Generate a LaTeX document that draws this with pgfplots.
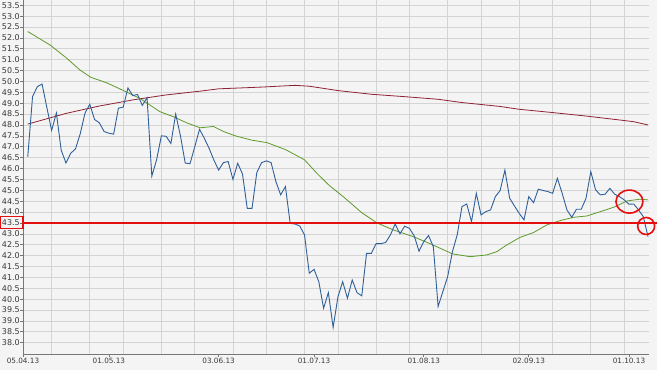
\documentclass[border=0pt]{standalone}
\usepackage{pgfplots}
\pgfplotsset{compat=1.18}
\usepackage{fontspec}
\setmainfont{DejaVu Sans}
\definecolor{bgc}{HTML}{F4F4F4}
\definecolor{gridc}{HTML}{D4D4D4}
\definecolor{axc}{HTML}{777777}
\definecolor{txtc}{HTML}{3A3A3A}
\definecolor{pricec}{HTML}{30609A}
\definecolor{mafast}{HTML}{5E9A2A}
\definecolor{maslow}{HTML}{8E2232}
\definecolor{annot}{HTML}{E41010}
\begin{document}
\begin{tikzpicture}
\fill[bgc] (-23bp,-16bp) rectangle (634bp,354bp);
\begin{axis}[
  scale only axis,
  width=626bp, height=354bp,
  xmin=0, xmax=131.2,
  ymin=37.48, ymax=53.74,
  clip=false,
  axis background/.style={fill=bgc},
  axis x line*=bottom, axis y line*=left,
  axis line style={axc, line width=0.8pt, -},
  xtick={0,18,41,61,84,106,127},
  xticklabels={05.04.13,01.05.13,03.06.13,01.07.13,01.08.13,02.09.13,01.10.13},
  minor xtick={6,14,21,29,36,44,51,59,66,74,81,89,96,104,111,119,126},
  xminorgrids=true, xmajorgrids=false,
  ytick={38,38.5,39,39.5,40,40.5,41,41.5,42,42.5,43,43.5,44,44.5,45,45.5,46,46.5,47,47.5,48,48.5,49,49.5,50,50.5,51,51.5,52,52.5,53,53.5},
  ymajorgrids=true,
  grid style={gridc, line width=0.6pt},
  minor grid style={gridc, line width=0.6pt},
  tick align=outside,
  major tick length=2.5bp,
  minor tick length=0pt,
  tick style={axc, line width=0.6pt},
  /pgf/number format/assume math mode=true,
  /pgf/number format/.cd, fixed, fixed zerofill, precision=1,
  /pgfplots/.cd,
  yticklabel style={font=\fontsize{8}{9}\selectfont, text=txtc, inner sep=0.6pt},
  xticklabel style={font=\fontsize{7.3}{8}\selectfont, text=txtc, inner sep=1.2pt},
]
% 200-day average
\addplot[maslow, line width=0.8pt] coordinates {
(1,48.04) (9,48.53) (16,48.87) (23,49.15) (30,49.38) (37,49.55) (41,49.66)
(50,49.74) (57,49.82) (60,49.78) (66,49.58) (73,49.41) (80,49.30) (87,49.18)
(92,49.03) (100,48.85) (104,48.72) (111,48.57) (118,48.41) (125,48.23)
(128,48.15) (131,48.00)
};
% short average
\addplot[mafast, line width=0.8pt] coordinates {
(1,52.29) (5.7,51.67) (9.2,51.06) (11.9,50.53) (14.2,50.19) (17.5,49.94)
(19.6,49.73) (24.5,49.22) (28.7,48.61) (31.5,48.38) (34.3,48.10) (37.1,47.87)
(39.9,47.93) (42,47.70) (44.5,47.50) (48,47.30) (51.1,47.19) (55,46.87)
(59,46.40) (61.6,45.78) (64.2,45.22) (67.1,44.71) (71,43.97) (74.2,43.50)
(77.6,43.18) (81.8,42.87) (85.3,42.55) (90,42.08) (93.7,41.95) (97.2,42.03)
(99.3,42.18) (101.4,42.49) (104.2,42.84) (107,43.06) (109.8,43.41)
(112.6,43.61) (115.4,43.76) (118.2,43.82) (121,44.02) (123.8,44.22)
(126.6,44.51) (129.3,44.59) (131,44.56)
};
% price
\addplot[pricec, line width=0.9pt] coordinates {
(1,46.54) (2,49.30) (3,49.76) (4,49.88) (5,48.80) (6,47.75) (7,48.55) (8,46.85)
(9,46.25) (10,46.70) (11,46.90) (12,47.60) (13,48.55) (14,48.95) (15,48.25)
(16,48.10) (17,47.70) (18,47.62) (19,47.58) (20,48.77) (21,48.82) (22,49.70)
(23,49.35) (24,49.40) (25,48.90) (26,49.25) (27,45.65) (28,46.40) (29,47.50)
(30,47.48) (31,47.15) (32,48.50) (33,47.50) (34,46.25) (35,46.22) (36,47.00)
(37,47.80) (38,47.39) (39,46.93) (40,46.39) (41,45.93) (42,46.27) (43,46.32)
(44,45.50) (45,46.24) (46,45.75) (47,44.17) (48,44.17) (49,45.81) (50,46.27)
(51,46.35) (52,46.27) (53,45.40) (54,44.79) (55,45.17) (56,43.48) (57,43.45)
(58,43.36) (59,42.95) (60,41.19) (61,41.37) (62,40.80) (63,39.58) (64,40.30)
(65,38.70) (66,40.10) (67,40.80) (68,40.04) (69,40.88) (70,40.30) (71,40.15)
(72,42.10) (73,42.10) (74,42.55) (75,42.55) (76,42.60) (77,42.95) (78,43.45)
(79,43.00) (80,43.35) (81,43.25) (82,42.90) (83,42.20) (84,42.65) (85,42.92)
(86,42.41) (87,39.66) (88,40.35) (89,41.03) (90,42.18) (91,42.95) (92,44.25)
(93,44.37) (94,43.56) (95,44.86) (96,43.87) (97,44.02) (98,44.10) (99,44.71)
(100,44.99) (101,45.93) (102,44.63) (103,44.28) (104,43.94) (105,43.64)
(106,44.71) (107,44.43) (108,45.05) (109,44.99) (110,44.94) (111,44.86)
(112,45.55) (113,44.86) (114,44.10) (115,43.76) (116,44.13) (117,44.13)
(118,44.63) (119,45.86) (120,45.02) (121,44.79) (122,44.82) (123,45.09)
(124,44.82) (125,44.71) (126,44.56) (127,44.36) (128,44.37) (129,44.10)
(130,43.79) (131,42.87)
};
% support line
\addplot[annot, line width=1.8pt] coordinates {(0.05,43.51) (132.9,43.51)};
\draw[annot, line width=1.5pt] (axis cs:-4.7,43.25) rectangle (axis cs:0.05,43.79);
\draw[annot, line width=1.6pt] (axis cs:127.1,44.48) ellipse [x radius=13.5bp, y radius=11.5bp];
\draw[annot, line width=1.6pt] (axis cs:130.6,43.36) ellipse [x radius=8.5bp, y radius=8.5bp];
\end{axis}
\pgfresetboundingbox
\useasboundingbox (-23bp,-16bp) rectangle (634bp,354bp);
\end{tikzpicture}
\end{document}
